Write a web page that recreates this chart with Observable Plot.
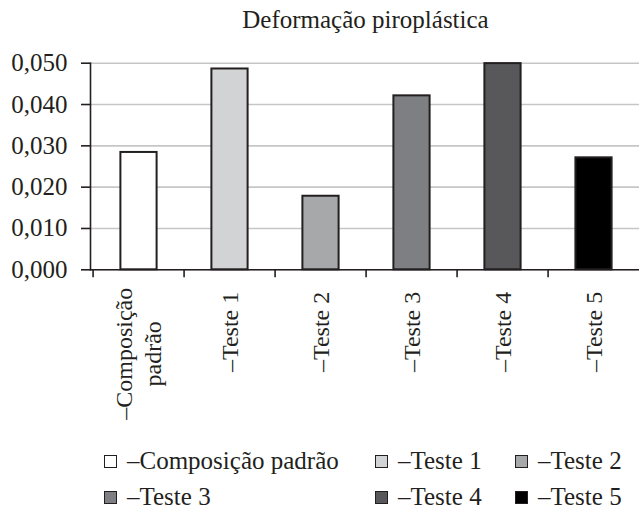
<!DOCTYPE html>
<html>
<head>
<meta charset="utf-8">
<script src="https://cdn.jsdelivr.net/npm/d3@7"></script>
<script src="https://cdn.jsdelivr.net/npm/@observablehq/plot@0.6"></script>
<style>
  html, body { margin: 0; padding: 0; background: #fff; }
  #wrap { position: relative; width: 639px; height: 512px; font-family: "Liberation Serif", "Times New Roman", serif; color: #231f20; overflow: hidden; }
  #title { position: absolute; left: 90px; width: 551px; top: 5px; text-align: center; font-size: 25px; line-height: 30px; }
  #chart { position: absolute; left: 0; top: 40px; }
  .leg { position: absolute; display: flex; align-items: center; font-size: 25px; line-height: 28px; white-space: nowrap; }
  .leg .sw { width: 11px; height: 11px; border: 1.5px solid #231f20; margin-right: 10px; flex: none; }
</style>
</head>
<body>
<div id="wrap">
  <div id="title">Deformação piroplástica</div>
  <div id="chart"></div>
</div>
<script>
const title = "Deformação piroplástica";
const categories = ["Composição padrão", "Teste 1", "Teste 2", "Teste 3", "Teste 4", "Teste 5"];
const xLabels = ["–Composição\npadrão", "–Teste 1", "–Teste 2", "–Teste 3", "–Teste 4", "–Teste 5"];
const legendLabels = ["–Composição padrão", "–Teste 1", "–Teste 2", "–Teste 3", "–Teste 4", "–Teste 5"];
const values = [0.0284, 0.0486, 0.0178, 0.0421, 0.0499, 0.0271];
const colors = ["#ffffff", "#d2d3d5", "#a7a8aa", "#7e7f82", "#58585a", "#000000"];
const yTicks = [0, 0.01, 0.02, 0.03, 0.04, 0.05];

const rows = categories.map((c, i) => ({cat: c, label: xLabels[i], value: values[i], color: colors[i]}));

const W = 639, ML = 90, MR = -2;
const bw = (W - ML - MR) / categories.length;
const fmt = d => d3.format(".3f")(d).replace(".", ",");

const plot = Plot.plot({
  width: W,
  height: 390,
  marginLeft: ML,
  marginRight: MR,
  marginTop: 22.7,
  marginBottom: 160.7,
  style: {fontFamily: "'Liberation Serif', 'Times New Roman', serif", fontSize: "24px", color: "#231f20", background: "transparent", overflow: "visible"},
  x: {domain: categories, padding: 0, label: null},
  y: {domain: [0, 0.05], label: null},
  color: {type: "identity"},
  marks: [
    Plot.gridY(yTicks, {stroke: "#c6c6c6", strokeOpacity: 1, strokeWidth: 1.6}),
    Plot.barY(rows, {x: "cat", y: "value", fill: "color", stroke: "#231f20", strokeWidth: 2, insetLeft: 27.4, insetRight: 27.4}),
    Plot.ruleY([0], {stroke: "#231f20", strokeWidth: 1.6}),
    Plot.frame({anchor: "left", stroke: "#231f20", strokeWidth: 1.6}),
    Plot.axisY(yTicks, {label: null, tickFormat: fmt, tickSize: 9, tickPadding: 14, fontSize: 25, stroke: "#231f20", strokeWidth: 1.6}),
    Plot.axisX({label: null, tickSize: 8, tickFormat: () => "", dx: -bw / 2, stroke: "#231f20", strokeWidth: 1.6}),
    Plot.axisX({label: null, tickSize: 0, tickPadding: 22, tickRotate: -90, fontSize: 24,
      tickFormat: (d, i) => (i === 0 ? "" : xLabels[categories.indexOf(d)])}),
    Plot.text(rows.slice(0, 1), {x: "cat", y: () => 0, text: "label", rotate: -90, textAnchor: "middle", lineAnchor: "middle", lineHeight: 1.2, dy: 84, dx: -2, fontSize: 24, fill: "#231f20"})
  ]
});
document.getElementById("chart").appendChild(plot);

// legend
const legPos = [[104, 447], [375, 447], [515, 447], [104, 483], [375, 483], [515, 483]];
const wrap = document.getElementById("wrap");
legendLabels.forEach((lab, i) => {
  const d = document.createElement("div");
  d.className = "leg";
  d.style.left = legPos[i][0] + "px";
  d.style.top = legPos[i][1] + "px";
  const sw = document.createElement("span");
  sw.className = "sw";
  sw.style.background = colors[i];
  const t = document.createElement("span");
  t.textContent = lab;
  d.appendChild(sw); d.appendChild(t);
  wrap.appendChild(d);
});
</script>
</body>
</html>
